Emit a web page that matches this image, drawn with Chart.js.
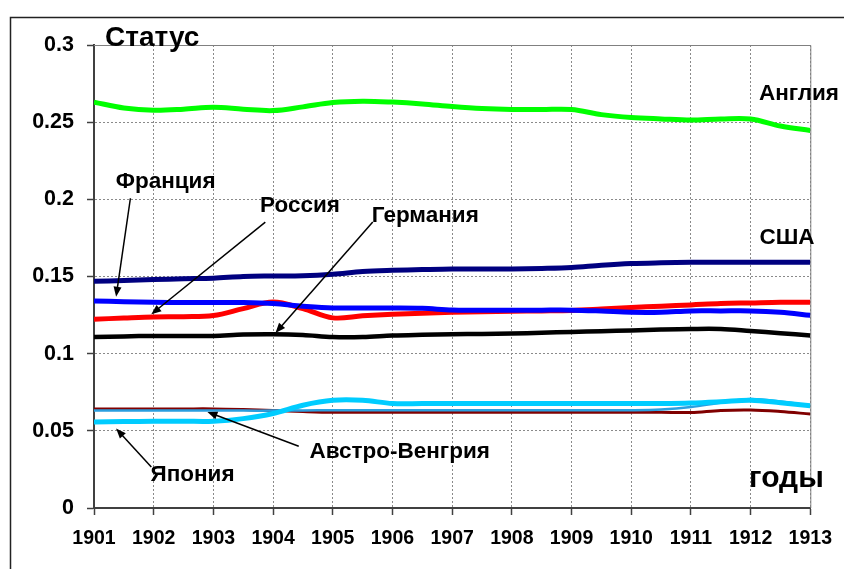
<!DOCTYPE html>
<html lang="ru">
<head>
<meta charset="utf-8">
<title>Статус</title>
<script src="https://cdn.jsdelivr.net/npm/chart.js@4/dist/chart.umd.min.js"></script>
<style>
  html, body { margin: 0; padding: 0; background: #fff; }
  #wrap { width: 844px; height: 569px; position: relative; }
</style>
</head>
<body>
<div id="wrap"><canvas id="statusChart"></canvas></div>
<script>
// half-year points, labels only on whole years
const years = [1901, 1901.5, 1902, 1902.5, 1903, 1903.5, 1904, 1904.5, 1905, 1905.5, 1906, 1906.5,
  1907, 1907.5, 1908, 1908.5, 1909, 1909.5, 1910, 1910.5, 1911, 1911.5, 1912, 1912.5, 1913];
const yearTicks = ['1901', '1902', '1903', '1904', '1905', '1906', '1907', '1908', '1909', '1910', '1911', '1912', '1913'];
const statusTicks = ['0', '0.05', '0.1', '0.15', '0.2', '0.25', '0.3'];

const england = [0.263, 0.2592, 0.2577, 0.2584, 0.2597, 0.2584, 0.2575, 0.2599, 0.2627, 0.2636, 0.263, 0.2618,
  0.2601, 0.2588, 0.2582, 0.2582, 0.2582, 0.2549, 0.253, 0.2521, 0.2514, 0.2521, 0.2521, 0.2475, 0.2446];
const usa = [0.1469, 0.1474, 0.148, 0.1485, 0.1489, 0.15, 0.1503, 0.1505, 0.1515, 0.1532, 0.154, 0.1545,
  0.1549, 0.1549, 0.1549, 0.1552, 0.1558, 0.1573, 0.1584, 0.1589, 0.1592, 0.1592, 0.1592, 0.1592, 0.1592];
const france = [0.1341, 0.1337, 0.1333, 0.1331, 0.1331, 0.1331, 0.1325, 0.1308, 0.1296, 0.1296, 0.1296, 0.1294,
  0.1283, 0.1282, 0.1281, 0.1282, 0.1282, 0.1276, 0.1268, 0.1268, 0.1277, 0.1277, 0.1277, 0.1268, 0.1249];
const russia = [0.1223, 0.1231, 0.1238, 0.124, 0.1247, 0.1292, 0.1335, 0.1292, 0.1232, 0.1245, 0.1255, 0.1262,
  0.1268, 0.1272, 0.1275, 0.1277, 0.128, 0.1289, 0.1299, 0.1308, 0.1316, 0.1325, 0.1329, 0.1333, 0.1333];
const germany = [0.1108, 0.1112, 0.1115, 0.1115, 0.1115, 0.1124, 0.1126, 0.1121, 0.1108, 0.1108, 0.1117, 0.1122,
  0.1126, 0.1128, 0.113, 0.1135, 0.1141, 0.1146, 0.115, 0.1156, 0.116, 0.116, 0.1147, 0.1133, 0.1117];
const austria = [0.0642, 0.0642, 0.0642, 0.0642, 0.0642, 0.0638, 0.0632, 0.0625, 0.062, 0.062, 0.062, 0.062,
  0.062, 0.062, 0.062, 0.062, 0.062, 0.062, 0.062, 0.062, 0.0619, 0.0632, 0.0635, 0.0625, 0.0609];
const otherPower = [0.0631, 0.0631, 0.0631, 0.0631, 0.0631, 0.0631, 0.0631, 0.0632, 0.0633, 0.0633, 0.0633, 0.0633,
  0.0633, 0.0633, 0.0633, 0.0633, 0.0633, 0.0633, 0.0633, 0.0638, 0.0654, 0.0682, 0.0706, 0.069, 0.0663];
const japan = [0.0557, 0.056, 0.0562, 0.0562, 0.0562, 0.0579, 0.0612, 0.0666, 0.0698, 0.0698, 0.0677, 0.0677,
  0.0677, 0.0677, 0.0677, 0.0677, 0.0677, 0.0677, 0.0677, 0.0677, 0.068, 0.0688, 0.0698, 0.0682, 0.0663];

// text notes and arrows, placed in data coordinates (year, status)
const notes = [
  { text: 'Англия', x: 1912.81, y: 0.2687 },
  { text: 'США', x: 1912.61, y: 0.1748 },
  { text: 'Франция', x: 1902.2, y: 0.2116 },
  { text: 'Россия', x: 1904.45, y: 0.196 },
  { text: 'Германия', x: 1906.55, y: 0.1895 },
  { text: 'Австро-Венгрия', x: 1906.12, y: 0.0361 },
  { text: 'Япония', x: 1902.65, y: 0.0218 }
];
const arrows = [
  { from: [1901.61, 0.2007], to: [1901.37, 0.1369] },
  { from: [1903.87, 0.1852], to: [1901.96, 0.1255] },
  { from: [1905.67, 0.1853], to: [1904.04, 0.1134] },
  { from: [1904.43, 0.0400], to: [1902.90, 0.0622] },
  { from: [1901.96, 0.0266], to: [1901.37, 0.0515] }
];

const FONT = '"Liberation Sans", Arial, sans-serif';

function drawArrow(ctx, x1, y1, x2, y2) {
  const angle = Math.atan2(y2 - y1, x2 - x1);
  const len = 10, half = 4;
  ctx.beginPath();
  ctx.moveTo(x1, y1);
  ctx.lineTo(x2 - Math.cos(angle) * len * 0.8, y2 - Math.sin(angle) * len * 0.8);
  ctx.stroke();
  ctx.beginPath();
  ctx.moveTo(x2, y2);
  ctx.lineTo(x2 - Math.cos(angle) * len - Math.sin(angle) * half, y2 - Math.sin(angle) * len + Math.cos(angle) * half);
  ctx.lineTo(x2 - Math.cos(angle) * len + Math.sin(angle) * half, y2 - Math.sin(angle) * len - Math.cos(angle) * half);
  ctx.closePath();
  ctx.fill();
}

const decorPlugin = {
  id: 'decor',
  beforeDraw(chart) {
    const ctx = chart.ctx;
    ctx.save();
    ctx.fillStyle = '#fff';
    ctx.fillRect(0, 0, chart.width, chart.height);
    ctx.strokeStyle = '#222';
    ctx.lineWidth = 1.5;
    ctx.strokeRect(10.5, 17.5, 1000, 1000);
    ctx.restore();
  },
  beforeDatasetsDraw(chart) {
    const { ctx, chartArea } = chart;
    ctx.save();
    ctx.strokeStyle = '#808080';
    ctx.lineWidth = 1;
    ctx.beginPath();
    ctx.moveTo(chartArea.left, chartArea.top + 0.5);
    ctx.lineTo(chartArea.right + 0.5, chartArea.top + 0.5);
    ctx.lineTo(chartArea.right + 0.5, chartArea.bottom);
    ctx.stroke();
    ctx.restore();
  },
  afterDraw(chart) {
    const { ctx, chartArea } = chart;
    const xs = chart.scales.x, ys = chart.scales.y;
    ctx.save();
    ctx.fillStyle = '#000';
    ctx.strokeStyle = '#000';
    ctx.lineWidth = 1.5;
    arrows.forEach((a) => {
      drawArrow(ctx, xs.getPixelForValue(a.from[0]), ys.getPixelForValue(a.from[1]),
        xs.getPixelForValue(a.to[0]), ys.getPixelForValue(a.to[1]));
    });

    ctx.font = 'bold 22.5px ' + FONT;
    ctx.textAlign = 'center';
    ctx.textBaseline = 'middle';
    notes.forEach((n) => {
      ctx.fillText(n.text, xs.getPixelForValue(n.x), ys.getPixelForValue(n.y));
    });

    ctx.font = 'bold 28px ' + FONT;
    ctx.textAlign = 'left';
    ctx.textBaseline = 'alphabetic';
    ctx.fillText('Статус', chartArea.left + 11, chartArea.top + 1);

    ctx.font = 'bold 30px ' + FONT;
    ctx.textAlign = 'center';
    ctx.textBaseline = 'middle';
    ctx.fillText('годы', xs.getPixelForValue(1912.6), ys.getPixelForValue(0.019));
    ctx.restore();
  }
};

function makeLine(label, data, color, width) {
  return {
    label: label,
    data: data,
    borderColor: color,
    backgroundColor: color,
    borderWidth: width,
    pointRadius: 0,
    tension: 0.35,
    fill: false
  };
}

const statusChart = new Chart(document.getElementById('statusChart').getContext('2d'), {
  type: 'line',
  data: {
    labels: years,
    datasets: [
      makeLine('Япония', japan, '#00CCFF', 5),
      makeLine('', otherPower, '#2A9FE0', 2.5),
      makeLine('Австро-Венгрия', austria, '#800000', 3),
      makeLine('Германия', germany, '#000000', 4.5),
      makeLine('Франция', france, '#0000FF', 5),
      makeLine('Россия', russia, '#FF0000', 5),
      makeLine('США', usa, '#000080', 5),
      makeLine('Англия', england, '#00FF00', 5)
    ]
  },
  options: {
    responsive: true,
    maintainAspectRatio: false,
    animation: false,
    layout: { padding: { top: 45, right: 31, left: 0, bottom: 0 } },
    plugins: {
      legend: { display: false },
      tooltip: { enabled: false }
    },
    scales: {
      x: {
        type: 'linear',
        min: 1901,
        max: 1913,
        afterFit: (scale) => { scale.height = 61; },
        ticks: {
          stepSize: 1,
          color: '#000',
          padding: 12,
          maxRotation: 0,
          font: { family: FONT, size: 19.5, weight: 'bold' },
          callback: (value) => yearTicks[Math.round(value - 1901)]
        },
        grid: { color: '#8a8a8a', lineWidth: 1, tickLength: 7, tickColor: '#404040', tickWidth: 1.5 },
        border: { color: '#404040', width: 2, dash: [2, 2] }
      },
      y: {
        min: 0,
        max: 0.3,
        afterFit: (scale) => { scale.width = 94; },
        ticks: {
          stepSize: 0.05,
          color: '#000',
          padding: 13,
          font: { family: FONT, size: 21.5, weight: 'bold' },
          callback: (value) => statusTicks[Math.round(value / 0.05)]
        },
        grid: { color: '#8a8a8a', lineWidth: 1, tickLength: 7, tickColor: '#404040', tickWidth: 1.5 },
        border: { color: '#404040', width: 2, dash: [2, 2] }
      }
    }
  },
  plugins: [decorPlugin]
});
</script>
</body>
</html>
